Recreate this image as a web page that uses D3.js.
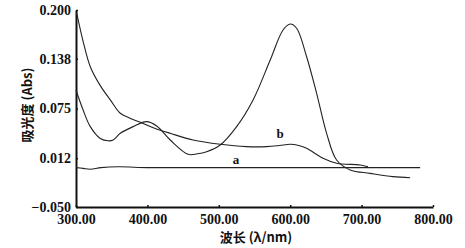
<!DOCTYPE html>
<html>
<head>
<meta charset="utf-8">
<script src="https://cdn.jsdelivr.net/npm/d3@7"></script>
<style>
  body { margin: 0; background: #fff; }
  .lbl { font-family: "Noto Sans CJK SC", "Liberation Serif", serif; font-weight: bold; font-size: 13px; fill: #111; }
</style>
</head>
<body>
<div id="chart-area"></div>
<script>
// wavelength (nm), absorbance
const curveA = [[300,0.000],[310,-0.001],[320,-0.002],[335,0.000],[360,0.001],[400,0.000],[450,0.000],[500,0.000],[550,0.000],[600,0.000],[650,0.000],[700,0.000],[750,0.000],[782,0.000]];
const curveB = [[301,0.196],[310,0.160],[320,0.128],[334,0.104],[348,0.086],[362,0.069],[375,0.063],[394,0.056],[410,0.050],[432,0.0435],[464,0.035],[502,0.0296],[539,0.0266],[567,0.0266],[585,0.028],[600,0.0296],[612,0.028],[623,0.0245],[646,0.0118],[665,0.0055],[698,0.0033],[709,0.001]];
const curveC = [[300,0.0985],[310,0.073],[320,0.052],[334,0.037],[345,0.034],[352,0.035],[362,0.0435],[380,0.052],[399,0.0583],[413,0.0528],[432,0.035],[457,0.0169],[470,0.0175],[483,0.0202],[502,0.0287],[525,0.052],[548,0.0858],[572,0.1365],[590,0.1746],[600,0.1822],[609,0.1768],[623,0.1407],[637,0.0943],[651,0.0435],[665,0.0096],[684,-0.003],[712,-0.0073],[744,-0.0115],[768,-0.0128]];
const xTicks = [300, 400, 500, 600, 700, 800];
const yTicks = [-0.050, 0.012, 0.075, 0.138, 0.200];
const seriesLabels = [{t: "a", x: 524, y: 0.005}, {t: "b", x: 586, y: 0.038}];

const svgWidth = 465, svgHeight = 248;
const serif = "'Liberation Serif', 'DejaVu Serif', 'Times New Roman', serif";
const svg = d3.select("#chart-area").append("svg")
  .attr("width", svgWidth).attr("height", svgHeight);

const x = d3.scaleLinear().domain([300, 800]).range([76, 433]);
const y = d3.scaleLinear().domain([-0.05, 0.2]).range([207, 10]);

svg.append("g")
  .attr("transform", `translate(0, ${y(-0.05)})`)
  .call(d3.axisBottom(x).tickValues(xTicks).tickFormat(d3.format(".2f"))
    .tickSizeInner(-2).tickSizeOuter(0).tickPadding(6))
  .call(g => g.selectAll(".tick text").attr("dy", "0.75em"));

svg.append("g")
  .attr("transform", `translate(${x(300)}, 0)`)
  .call(d3.axisLeft(y).tickValues(yTicks).tickFormat(d3.format(".3f"))
    .tickSizeInner(-2).tickSizeOuter(0).tickPadding(5));

svg.selectAll(".tick text")
  .style("font-family", serif)
  .style("font-weight", "bold")
  .style("font-size", "14px")
  .attr("fill", "#111");
svg.selectAll(".domain").attr("stroke", "#111").attr("stroke-width", 2);
svg.selectAll(".tick line").attr("stroke", "#111").attr("stroke-width", 1.5);

const line = d3.line()
  .x(d => x(d[0]))
  .y(d => y(d[1]))
  .curve(d3.curveCatmullRom.alpha(0.5));

[curveA, curveB, curveC].forEach(c => {
  svg.append("path")
    .datum(c)
    .attr("fill", "none")
    .attr("stroke", "#222")
    .attr("stroke-width", 1.1)
    .attr("d", line);
});

svg.selectAll(".series-label")
  .data(seriesLabels)
  .enter()
  .append("text")
    .attr("class", "lbl")
    .attr("x", d => x(d.x))
    .attr("y", d => y(d.y))
    .attr("text-anchor", "middle")
    .style("font-family", serif)
    .text(d => d.t);

svg.append("text")
  .attr("class", "lbl")
  .attr("x", 256)
  .attr("y", 242)
  .attr("text-anchor", "middle")
  .text("波长 (λ/nm)");

svg.append("text")
  .attr("class", "lbl")
  .attr("transform", "rotate(-90)")
  .attr("x", -105)
  .attr("y", 32)
  .attr("text-anchor", "middle")
  .text("吸光度 (Abs)");
</script>
</body>
</html>
